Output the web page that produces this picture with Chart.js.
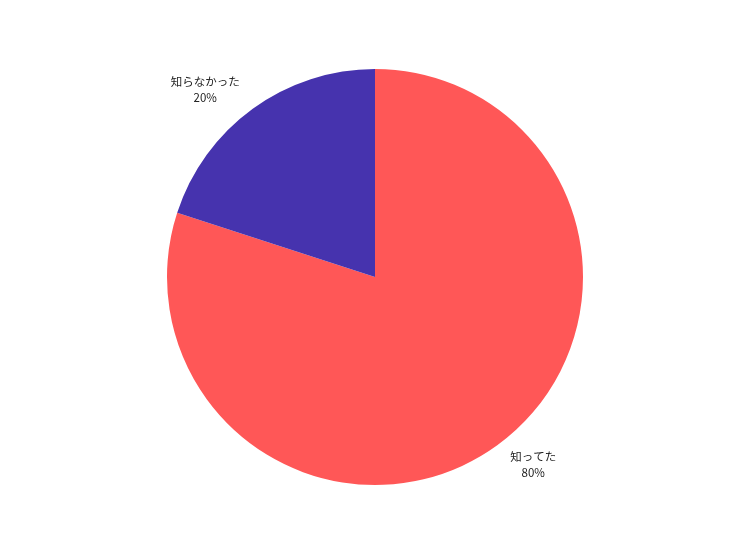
<!DOCTYPE html>
<html>
<head>
<meta charset="utf-8">
<script src="https://cdn.jsdelivr.net/npm/chart.js@4"></script>
<style>
  html, body { margin: 0; padding: 0; background: #fff; }
  #wrap { width: 750px; height: 555px; }
</style>
</head>
<body>
<div id="wrap"><canvas id="chart"></canvas></div>
<script>
// données
let categories = ["知ってた", "知らなかった"];
let values = [80, 20];
let colors = ["#FF5757", "#4633AE"];

// étiquettes en dehors du camembert
let outsideLabels = {
    id: 'outsideLabels',
    afterDraw(chart) {
        let c = chart.ctx;
        let meta = chart.getDatasetMeta(0);
        let total = values.reduce((a, b) => a + b, 0);
        c.save();
        c.font = '11.5px "Noto Sans CJK JP", "Liberation Sans", sans-serif';
        c.fillStyle = '#222';
        c.textAlign = 'center';
        c.textBaseline = 'middle';
        meta.data.forEach((arc, i) => {
            let mid = (arc.startAngle + arc.endAngle) / 2;
            let dx = Math.cos(mid), dy = Math.sin(mid);
            let ex = arc.x + dx * arc.outerRadius;
            let ey = arc.y + dy * arc.outerRadius;
            let w = c.measureText(categories[i]).width;
            let x = ex + Math.sign(dx) * (13 + w / 2);
            let y = ey + Math.sign(dy) * 19;
            let pct = Math.round(values[i] / total * 100) + '%';
            c.fillText(categories[i], x, y - 8);
            c.fillText(pct, x, y + 8);
        });
        c.restore();
    }
};

let ctx = document.getElementById('chart');
new Chart(ctx, {
    type: 'pie',
    data: {
        labels: categories,
        datasets: [{
            data: values,
            backgroundColor: colors,
            borderWidth: 0
        }]
    },
    options: {
        responsive: true,
        maintainAspectRatio: false,
        animation: false,
        layout: { padding: { top: 69, bottom: 70, left: 0, right: 0 } },
        plugins: {
            legend: { display: false },
            tooltip: { enabled: false }
        }
    },
    plugins: [outsideLabels]
});
</script>
</body>
</html>
